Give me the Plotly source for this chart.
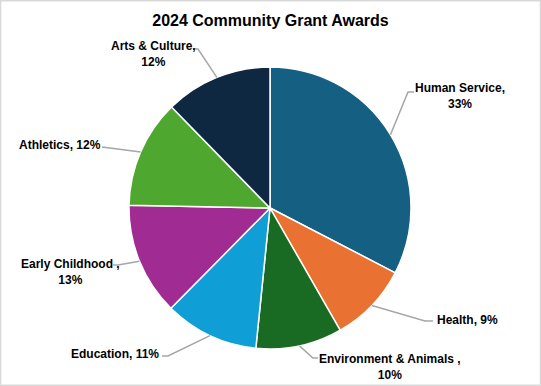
import math
import plotly.graph_objects as go

# ---- data ----
categories = ["Human Service", "Health", "Environment & Animals", "Education",
              "Early Childhood", "Athletics", "Arts & Culture"]
shares = [32.6, 9.1, 9.9, 10.8, 12.9, 12.4, 12.3]
label_names = ["Human Service,<br>", "Health, ", "Environment & Animals ,<br>",
               "Education, ", "Early Childhood ,<br>", "Athletics, ", "Arts & Culture,<br>"]
colors = ["#156082", "#E97132", "#196B24", "#0F9ED5", "#A02B93", "#4EA72E", "#0E2841"]

# ---- layout (pixel geometry) ----
W, H = 541, 386
CX, CY, R = 270, 208, 141
# label text centre and leader-line end (pixels)
label_pos = [(460, 96), (467, 320), (390, 367), (115, 354), (70, 272), (60, 145), (153, 54)]
line_end = [(414, 92), (433, 321), (318, 358), (162, 356), (113, 265), (102, 147), (193, 49)]
elbow_dx = [-6, -8, -5, 6, 5, 0, 5]

def px(x, y):
    return x / W, 1 - y / H

fig = go.Figure(go.Pie(
    labels=categories, values=shares, sort=False, direction="clockwise", rotation=0,
    marker=dict(colors=colors, line=dict(color="white", width=1.5)),
    textinfo="none", hoverinfo="label+percent", showlegend=False,
    domain=dict(x=[(CX - R) / W, (CX + R) / W], y=[(H - CY - R) / H, (H - CY + R) / H]),
))

total = sum(shares)
cum = 0
shapes = []
annotations = []
for i, v in enumerate(shares):
    mid = (cum + v / 2) / total * 2 * math.pi
    cum += v
    ex, ey = CX + R * math.sin(mid), CY - R * math.cos(mid)
    lx, ly = line_end[i]
    bx = lx + elbow_dx[i]
    p0, p1, p2 = px(ex, ey), px(bx, ly), px(lx, ly)
    shapes.append(dict(type="path", xref="paper", yref="paper",
                       path=f"M {p0[0]} {p0[1]} L {p1[0]} {p1[1]} L {p2[0]} {p2[1]}",
                       line=dict(color="#A6A6A6", width=1.5)))
    tx, ty = px(*label_pos[i])
    pct = round(v / total * 100)
    annotations.append(dict(x=tx, y=ty, xref="paper", yref="paper", showarrow=False,
                            text=f"<b>{label_names[i]}{pct}%</b>", xanchor="center", yanchor="middle",
                            align="center", font=dict(size=12, color="#000000")))

shapes.append(dict(type="rect", xref="paper", yref="paper", x0=0.001, y0=0.002, x1=0.999, y1=0.998,
                   line=dict(color="#D9D9D9", width=1.5)))

fig.update_layout(
    width=W, height=H, margin=dict(l=0, r=0, t=0, b=0),
    paper_bgcolor="white", plot_bgcolor="white",
    font=dict(family="Liberation Sans, Arial, sans-serif"),
    title=dict(text="<b>2024 Community Grant Awards</b>", x=0.5, xanchor="center",
               y=1 - 20 / H, yanchor="middle", font=dict(size=16, color="#000000")),
    shapes=shapes, annotations=annotations,
)

fig.write_html("out.html")
